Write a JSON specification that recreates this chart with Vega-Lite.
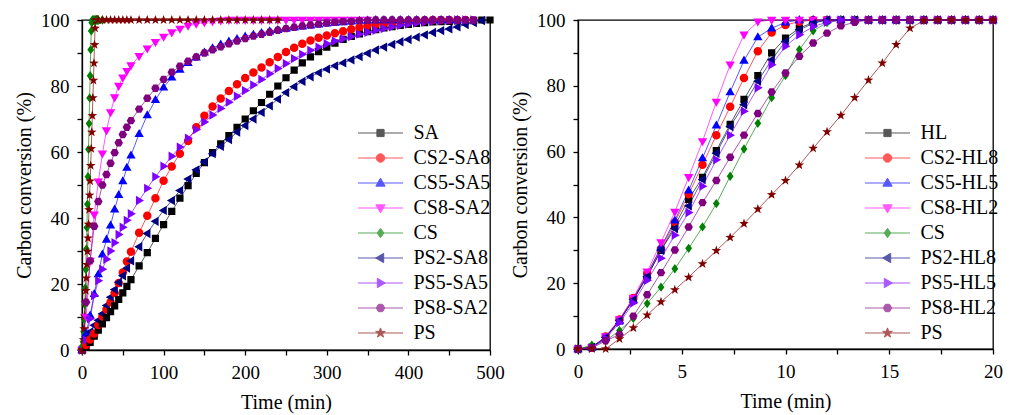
{
"$schema": "https://vega.github.io/schema/vega-lite/v6.json",
"padding": {"left": 13, "top": 10, "right": 5, "bottom": 5},
"spacing": 88,
"bounds": "flush",
"config": {
  "font": "Liberation Serif",
  "style": {"guide-title": {"fontWeight": "normal"}},
  "view": {"stroke": "black", "strokeWidth": 1.3},
  "axis": {"labelFont": "Liberation Serif", "titleFont": "Liberation Serif", "labelFontSize": 19, "titleFontSize": 20, "titleFontWeight": "normal", "labelColor": "black", "titleColor": "black", "domainColor": "black", "tickColor": "black", "domainWidth": 1.3, "tickWidth": 1.3, "tickSize": 5, "grid": false, "labelOverlap": false, "labelFlush": false},
  "legend": {"labelFont": "Liberation Serif", "labelFontSize": 20, "labelColor": "black", "symbolSize": 72, "symbolStrokeWidth": 1, "rowPadding": 5, "labelOffset": 23, "padding": 0, "orient": "none", "title": null}
},
"datasets": {
"L": [
{"t":0,"SA":0,"CS2-SA8":0,"CS5-SA5":0,"CS8-SA2":0,"CS":0,"PS2-SA8":0,"PS5-SA5":0,"PS8-SA2":0,"PS":0},
{"t":0.667,"CS":1.2,"PS":0},{"t":1.333,"CS":2.5,"PS":0},{"t":2,"CS":5.6,"PS":3.1},{"t":2.667,"CS":9.3,"PS":6.4},
{"t":3.333,"CS":13.8,"PS":10.3},{"t":4,"CS":18.8,"PS":14.3},{"t":4.667,"CS":24.4,"PS":18},{"t":5.333,"CS":30.6,"PS":21.8},
{"t":6,"CS":37.1,"PS":25.9},{"t":6.667,"CS":44.2,"PS":29.9},{"t":7.333,"CS":52.5,"PS":33.9},{"t":8,"CS":60.8,"PS":38.1},
{"t":8.667,"CS":68.6,"PS":42.5},{"t":9.333,"CS":76.4,"PS":46.9},{"t":10,"CS":83.1,"PS":51.2},{"t":10.667,"CS":91,"PS":55.9},
{"t":11.333,"CS":96.7,"PS":61},{"t":12,"CS":99.2,"PS":66},{"t":12.667,"CS":100,"PS":71},{"t":13.333,"CS":100,"PS":76.4},
{"t":14,"CS":100,"PS":81.7},{"t":14.667,"CS":100,"PS":86.9},{"t":15.333,"CS":100,"PS":92.5},{"t":16,"CS":100,"PS":97.5},
{"t":16.667,"CS":100,"PS":99.8},{"t":17.333,"CS":100,"PS":100},{"t":18,"CS":100,"PS":100},{"t":18.667,"CS":100,"PS":100},
{"t":19.333,"CS":100,"PS":100},{"t":20,"CS":100,"PS":100},
{"t":5,"SA":0.8,"CS2-SA8":1.5,"CS5-SA5":5,"CS8-SA2":10,"PS2-SA8":3.5,"PS5-SA5":3,"PS8-SA2":14.5},
{"t":10,"SA":2.3,"CS2-SA8":3.2,"CS5-SA5":10.5,"CS8-SA2":27,"PS2-SA8":5.5,"PS5-SA5":9.5,"PS8-SA2":27},
{"t":15,"SA":4.2,"CS2-SA8":5,"CS5-SA5":17,"CS8-SA2":41,"PS2-SA8":7.5,"PS5-SA5":16.5,"PS8-SA2":37.5},
{"t":20,"SA":6,"CS2-SA8":7.6,"CS5-SA5":23,"CS8-SA2":51,"PS2-SA8":9,"PS5-SA5":21,"PS8-SA2":45},
{"t":25,"SA":7.9,"CS2-SA8":10.2,"CS5-SA5":29,"CS8-SA2":59.5,"CS":100,"PS2-SA8":11,"PS5-SA5":24.5,"PS8-SA2":50,"PS":100},
{"t":30,"SA":9.8,"CS2-SA8":12.3,"CS5-SA5":33.5,"CS8-SA2":66.5,"PS2-SA8":13.5,"PS5-SA5":27.5,"PS8-SA2":53.2,"PS":100},
{"t":35,"SA":11.6,"CS2-SA8":14.5,"CS5-SA5":37.8,"CS8-SA2":72,"PS2-SA8":16,"PS5-SA5":30,"PS8-SA2":56.6,"PS":100},
{"t":40,"SA":13.4,"CS2-SA8":17.3,"CS5-SA5":42.6,"CS8-SA2":76.5,"PS2-SA8":18.3,"PS5-SA5":32.5,"PS8-SA2":59.8,"PS":100},
{"t":45,"SA":15.3,"CS2-SA8":20.3,"CS5-SA5":47,"CS8-SA2":80,"PS2-SA8":20.5,"PS5-SA5":35,"PS8-SA2":62.8,"PS":100},
{"t":50,"SA":17.3,"CS2-SA8":23.5,"CS5-SA5":51.2,"CS8-SA2":82.5,"PS2-SA8":22.5,"PS5-SA5":37.2,"PS8-SA2":65.3,"PS":100},
{"t":55,"SA":19.3,"CS2-SA8":26.8,"CS5-SA5":55.3,"CS8-SA2":84.5,"PS2-SA8":24.8,"PS5-SA5":39.3,"PS8-SA2":67.5,"PS":100},
{"t":60,"SA":21.3,"CS2-SA8":29.8,"CS5-SA5":59,"CS8-SA2":86.2,"PS2-SA8":27,"PS5-SA5":41.3,"PS8-SA2":69.5,"PS":100},
{"t":70,"SA":25.5,"CS2-SA8":35.5,"CS5-SA5":65.5,"CS8-SA2":89,"PS2-SA8":31.3,"PS5-SA5":45.3,"PS8-SA2":73,"PS":100},
{"t":80,"SA":29.5,"CS2-SA8":40.7,"CS5-SA5":71.2,"CS8-SA2":91.3,"PS2-SA8":35.3,"PS5-SA5":49,"PS8-SA2":76.3,"PS":100},
{"t":90,"SA":33.8,"CS2-SA8":46,"CS5-SA5":75.8,"CS8-SA2":93.3,"PS2-SA8":39,"PS5-SA5":52.5,"PS8-SA2":79.3,"PS":100},
{"t":100,"SA":38,"CS2-SA8":51.3,"CS5-SA5":79.6,"CS8-SA2":94.9,"PS2-SA8":42.3,"PS5-SA5":55.7,"PS8-SA2":82,"PS":100},
{"t":110,"SA":42,"CS2-SA8":55.6,"CS5-SA5":82.6,"CS8-SA2":96.2,"PS2-SA8":45.3,"PS5-SA5":58.7,"PS8-SA2":84.2,"PS":100},
{"t":120,"SA":46,"CS2-SA8":59.5,"CS5-SA5":85,"CS8-SA2":97.3,"PS2-SA8":48.3,"PS5-SA5":61.5,"PS8-SA2":86,"PS":100},
{"t":130,"SA":49.8,"CS2-SA8":63.3,"CS5-SA5":87,"CS8-SA2":98.2,"PS2-SA8":51.8,"PS5-SA5":64.2,"PS8-SA2":87.5,"PS":100},
{"t":140,"SA":53.5,"CS2-SA8":67.5,"CS5-SA5":88.7,"CS8-SA2":98.8,"PS2-SA8":54.6,"PS5-SA5":66.8,"PS8-SA2":88.8,"PS":100},
{"t":150,"SA":56.8,"CS2-SA8":71,"CS5-SA5":90.2,"CS8-SA2":99.3,"PS2-SA8":57,"PS5-SA5":69.1,"PS8-SA2":90,"PS":100},
{"t":160,"SA":59.8,"CS2-SA8":73.8,"CS5-SA5":91.5,"CS8-SA2":99.6,"PS2-SA8":59.5,"PS5-SA5":71.2,"PS8-SA2":91,"PS":100},
{"t":170,"SA":62.5,"CS2-SA8":76.2,"CS5-SA5":92.6,"CS8-SA2":99.8,"PS2-SA8":61.7,"PS5-SA5":73.2,"PS8-SA2":91.9,"PS":100},
{"t":180,"SA":65,"CS2-SA8":78.5,"CS5-SA5":93.5,"CS8-SA2":100,"PS2-SA8":63.8,"PS5-SA5":75.1,"PS8-SA2":92.8,"PS":100},
{"t":190,"SA":67.5,"CS2-SA8":80.5,"CS5-SA5":94.3,"CS8-SA2":100,"PS2-SA8":66,"PS5-SA5":76.9,"PS8-SA2":93.6,"PS":100},
{"t":200,"SA":70,"CS2-SA8":82.4,"CS5-SA5":95,"CS8-SA2":100,"PS2-SA8":68,"PS5-SA5":78.6,"PS8-SA2":94.4,"PS":100},
{"t":210,"SA":72.5,"CS2-SA8":84.1,"CS5-SA5":95.6,"CS8-SA2":100,"PS2-SA8":70,"PS5-SA5":80.3,"PS8-SA2":95.1,"PS":100},
{"t":220,"SA":75,"CS2-SA8":85.6,"CS5-SA5":96.1,"CS8-SA2":100,"PS2-SA8":72,"PS5-SA5":82,"PS8-SA2":95.7,"PS":100},
{"t":230,"SA":77.5,"CS2-SA8":87.2,"CS5-SA5":96.6,"CS8-SA2":100,"PS2-SA8":74,"PS5-SA5":83.7,"PS8-SA2":96.3,"PS":100},
{"t":240,"SA":80,"CS2-SA8":88.8,"CS5-SA5":97,"CS8-SA2":100,"PS2-SA8":76,"PS5-SA5":85.3,"PS8-SA2":96.9,"PS":100},
{"t":250,"SA":82.5,"CS2-SA8":90.3,"CS5-SA5":97.4,"CS8-SA2":100,"PS2-SA8":78,"PS5-SA5":86.8,"PS8-SA2":97.4},
{"t":260,"SA":84.8,"CS2-SA8":91.6,"CS5-SA5":97.8,"CS8-SA2":100,"PS2-SA8":79.8,"PS5-SA5":88.3,"PS8-SA2":97.8},
{"t":270,"SA":87,"CS2-SA8":92.8,"CS5-SA5":98.1,"CS8-SA2":100,"PS2-SA8":81.4,"PS5-SA5":89.6,"PS8-SA2":98.2},
{"t":280,"SA":88.8,"CS2-SA8":93.8,"CS5-SA5":98.4,"CS8-SA2":100,"PS2-SA8":82.8,"PS5-SA5":90.8,"PS8-SA2":98.5},
{"t":290,"SA":90.4,"CS2-SA8":94.6,"CS5-SA5":98.7,"CS8-SA2":100,"PS2-SA8":84,"PS5-SA5":91.8,"PS8-SA2":98.8},
{"t":300,"SA":91.8,"CS2-SA8":95.3,"CS5-SA5":99,"CS8-SA2":100,"PS2-SA8":85.1,"PS5-SA5":92.8,"PS8-SA2":99.1},
{"t":310,"SA":93,"CS2-SA8":96,"CS5-SA5":99.2,"CS8-SA2":100,"PS2-SA8":86.1,"PS5-SA5":93.6,"PS8-SA2":99.3},
{"t":320,"SA":94.1,"CS2-SA8":96.6,"CS5-SA5":99.4,"CS8-SA2":100,"PS2-SA8":87,"PS5-SA5":94.3,"PS8-SA2":99.5},
{"t":330,"SA":95,"CS2-SA8":97.2,"CS5-SA5":99.6,"CS8-SA2":100,"PS2-SA8":87.9,"PS5-SA5":95,"PS8-SA2":99.6},
{"t":340,"SA":95.8,"CS2-SA8":97.8,"CS5-SA5":99.8,"CS8-SA2":100,"PS2-SA8":88.9,"PS5-SA5":95.7,"PS8-SA2":99.8},
{"t":350,"SA":96.5,"CS2-SA8":98.3,"CS5-SA5":99.9,"CS8-SA2":100,"PS2-SA8":89.9,"PS5-SA5":96.3,"PS8-SA2":99.9},
{"t":360,"SA":97.1,"CS2-SA8":98.7,"CS5-SA5":100,"PS2-SA8":90.9,"PS5-SA5":96.9,"PS8-SA2":100},
{"t":370,"SA":97.6,"CS2-SA8":99,"CS5-SA5":100,"PS2-SA8":91.8,"PS5-SA5":97.4,"PS8-SA2":100},
{"t":380,"SA":98,"CS2-SA8":99.3,"CS5-SA5":100,"PS2-SA8":92.6,"PS5-SA5":97.9,"PS8-SA2":100},
{"t":390,"SA":98.4,"CS2-SA8":99.5,"CS5-SA5":100,"PS2-SA8":93.4,"PS5-SA5":98.4,"PS8-SA2":100},
{"t":400,"SA":98.7,"CS2-SA8":99.7,"CS5-SA5":100,"PS2-SA8":94.1,"PS5-SA5":98.8,"PS8-SA2":100},
{"t":410,"SA":99,"CS2-SA8":99.8,"CS5-SA5":100,"PS2-SA8":94.8,"PS5-SA5":99.1,"PS8-SA2":100},
{"t":420,"SA":99.2,"CS2-SA8":99.9,"CS5-SA5":100,"PS2-SA8":95.5,"PS5-SA5":99.4,"PS8-SA2":100},
{"t":430,"SA":99.4,"CS2-SA8":100,"CS5-SA5":100,"PS2-SA8":96.2,"PS5-SA5":99.6,"PS8-SA2":100},
{"t":440,"SA":99.5,"CS2-SA8":100,"CS5-SA5":100,"PS2-SA8":96.8,"PS5-SA5":99.8,"PS8-SA2":100},
{"t":450,"SA":99.6,"CS2-SA8":100,"CS5-SA5":100,"PS2-SA8":97.3,"PS5-SA5":99.9,"PS8-SA2":100},
{"t":460,"SA":99.7,"CS2-SA8":100,"CS5-SA5":100,"PS2-SA8":97.9,"PS5-SA5":100,"PS8-SA2":100},
{"t":470,"SA":99.8,"CS2-SA8":100,"PS2-SA8":98.6,"PS5-SA5":100,"PS8-SA2":100},
{"t":480,"SA":99.9,"PS2-SA8":99.2,"PS5-SA5":100,"PS8-SA2":100},
{"t":490,"SA":100,"PS2-SA8":99.8},
{"t":500,"SA":100}
],
"R": [
{"t":0,"HL":0,"CS2-HL8":0,"CS5-HL5":0,"CS8-HL2":0,"CS":0,"PS2-HL8":0,"PS5-HL5":0,"PS8-HL2":0,"PS":0},
{"t":0.667,"HL":0.5,"CS2-HL8":0.5,"CS5-HL5":0.5,"CS8-HL2":0.5,"CS":1.2,"PS2-HL8":0.5,"PS5-HL5":0.3,"PS8-HL2":0.3,"PS":0},
{"t":1.333,"HL":3.5,"CS2-HL8":3.8,"CS5-HL5":3.5,"CS8-HL2":3.8,"CS":2.5,"PS2-HL8":3.5,"PS5-HL5":3.2,"PS8-HL2":2.5,"PS":0},
{"t":2,"HL":8.7,"CS2-HL8":9,"CS5-HL5":8.5,"CS8-HL2":9,"CS":5.6,"PS2-HL8":8.7,"PS5-HL5":8,"PS8-HL2":4.4,"PS":3.1},
{"t":2.667,"HL":15,"CS2-HL8":15.5,"CS5-HL5":15,"CS8-HL2":15.5,"CS":9.3,"PS2-HL8":15,"PS5-HL5":14,"PS8-HL2":10,"PS":6.4},
{"t":3.333,"HL":22,"CS2-HL8":23,"CS5-HL5":22.5,"CS8-HL2":23.5,"CS":13.8,"PS2-HL8":22,"PS5-HL5":20.9,"PS8-HL2":16.5,"PS":10.3},
{"t":4,"HL":30,"CS2-HL8":30.5,"CS5-HL5":31,"CS8-HL2":32.4,"CS":18.8,"PS2-HL8":30,"PS5-HL5":27.6,"PS8-HL2":23.2,"PS":14.3},
{"t":4.667,"HL":37.5,"CS2-HL8":38.5,"CS5-HL5":39.1,"CS8-HL2":41.7,"CS":24.4,"PS2-HL8":36.6,"PS5-HL5":34.6,"PS8-HL2":30.1,"PS":18},
{"t":5.333,"HL":45.5,"CS2-HL8":47,"CS5-HL5":48.2,"CS8-HL2":52.2,"CS":30.6,"PS2-HL8":43.5,"PS5-HL5":41.5,"PS8-HL2":37.1,"PS":21.8},
{"t":6,"HL":52.2,"CS2-HL8":56,"CS5-HL5":58,"CS8-HL2":63.1,"CS":37.1,"PS2-HL8":51.5,"PS5-HL5":49.5,"PS8-HL2":44.5,"PS":25.9},
{"t":6.667,"HL":60.3,"CS2-HL8":65,"CS5-HL5":68,"CS8-HL2":75.1,"CS":44.2,"PS2-HL8":59.5,"PS5-HL5":57.5,"PS8-HL2":51.2,"PS":29.9},
{"t":7.333,"HL":68.3,"CS2-HL8":73.6,"CS5-HL5":78.1,"CS8-HL2":86.4,"CS":52.5,"PS2-HL8":67.6,"PS5-HL5":65,"PS8-HL2":58.3,"PS":33.9},
{"t":8,"HL":75.9,"CS2-HL8":82.4,"CS5-HL5":87.7,"CS8-HL2":95.5,"CS":60.8,"PS2-HL8":74.3,"PS5-HL5":72.3,"PS8-HL2":65,"PS":38.1},
{"t":8.667,"HL":83.1,"CS2-HL8":90.5,"CS5-HL5":94.8,"CS8-HL2":99.5,"CS":68.6,"PS2-HL8":81.4,"PS5-HL5":79.4,"PS8-HL2":71.6,"PS":42.5},
{"t":9.333,"HL":90,"CS2-HL8":96.2,"CS5-HL5":97.5,"CS8-HL2":100,"CS":76.4,"PS2-HL8":87.9,"PS5-HL5":86.4,"PS8-HL2":78.1,"PS":46.9},
{"t":10,"HL":94.5,"CS2-HL8":98.5,"CS5-HL5":99.3,"CS8-HL2":100,"CS":83.1,"PS2-HL8":93.5,"PS5-HL5":92,"PS8-HL2":83.9,"PS":51.2},
{"t":10.667,"HL":97.5,"CS2-HL8":99.5,"CS5-HL5":100,"CS8-HL2":100,"CS":91,"PS2-HL8":97,"PS5-HL5":95.5,"PS8-HL2":89,"PS":55.9},
{"t":11.333,"HL":99.3,"CS2-HL8":100,"CS5-HL5":100,"CS8-HL2":100,"CS":96.7,"PS2-HL8":99,"PS5-HL5":98,"PS8-HL2":93,"PS":61},
{"t":12,"HL":100,"CS2-HL8":100,"CS5-HL5":100,"CS8-HL2":100,"CS":99.2,"PS2-HL8":100,"PS5-HL5":99.3,"PS8-HL2":96,"PS":66},
{"t":12.667,"HL":100,"CS2-HL8":100,"CS5-HL5":100,"CS8-HL2":100,"CS":100,"PS2-HL8":100,"PS5-HL5":100,"PS8-HL2":98.2,"PS":71},
{"t":13.333,"HL":100,"CS2-HL8":100,"CS5-HL5":100,"CS8-HL2":100,"CS":100,"PS2-HL8":100,"PS5-HL5":100,"PS8-HL2":99.3,"PS":76.4},
{"t":14,"HL":100,"CS2-HL8":100,"CS5-HL5":100,"CS8-HL2":100,"CS":100,"PS2-HL8":100,"PS5-HL5":100,"PS8-HL2":100,"PS":81.7},
{"t":14.667,"HL":100,"CS2-HL8":100,"CS5-HL5":100,"CS8-HL2":100,"CS":100,"PS2-HL8":100,"PS5-HL5":100,"PS8-HL2":100,"PS":86.9},
{"t":15.333,"HL":100,"CS2-HL8":100,"CS5-HL5":100,"CS8-HL2":100,"CS":100,"PS2-HL8":100,"PS5-HL5":100,"PS8-HL2":100,"PS":92.5},
{"t":16,"HL":100,"CS2-HL8":100,"CS5-HL5":100,"CS8-HL2":100,"CS":100,"PS2-HL8":100,"PS5-HL5":100,"PS8-HL2":100,"PS":97.5},
{"t":16.667,"HL":100,"CS2-HL8":100,"CS5-HL5":100,"CS8-HL2":100,"CS":100,"PS2-HL8":100,"PS5-HL5":100,"PS8-HL2":100,"PS":99.8},
{"t":17.333,"HL":100,"CS2-HL8":100,"CS5-HL5":100,"CS8-HL2":100,"CS":100,"PS2-HL8":100,"PS5-HL5":100,"PS8-HL2":100,"PS":100},
{"t":18,"HL":100,"CS2-HL8":100,"CS5-HL5":100,"CS8-HL2":100,"CS":100,"PS2-HL8":100,"PS5-HL5":100,"PS8-HL2":100,"PS":100},
{"t":18.667,"HL":100,"CS2-HL8":100,"CS5-HL5":100,"CS8-HL2":100,"CS":100,"PS2-HL8":100,"PS5-HL5":100,"PS8-HL2":100,"PS":100},
{"t":19.333,"HL":100,"CS2-HL8":100,"CS5-HL5":100,"CS8-HL2":100,"CS":100,"PS2-HL8":100,"PS5-HL5":100,"PS8-HL2":100,"PS":100},
{"t":20,"HL":100,"CS2-HL8":100,"CS5-HL5":100,"CS8-HL2":100,"CS":100,"PS2-HL8":100,"PS5-HL5":100,"PS8-HL2":100,"PS":100}
]
},
"resolve": {"scale": {"fill": "independent", "stroke": "independent", "shape": "independent"}, "legend": {"fill": "independent", "stroke": "independent", "shape": "independent"}},
"hconcat": [
{
  "width": 408, "height": 330,
  "data": {"name": "L"},
  "transform": [{"fold": ["SA","CS2-SA8","CS5-SA5","CS8-SA2","CS","PS2-SA8","PS5-SA5","PS8-SA2","PS"], "as": ["series","c"]}, {"filter": "isValid(datum.c)"}],
  "encoding": {
    "x": {"field": "t", "type": "quantitative", "scale": {"domain": [0,500], "nice": false}, "axis": {"title": "Time (min)", "titleFontWeight": "normal", "values": [0,50,100,150,200,250,300,350,400,450,500], "labelExpr": "datum.value % 100 === 0 ? datum.label : ''", "labelPadding": 8, "titlePadding": 10}},
    "y": {"field": "c", "type": "quantitative", "scale": {"domain": [0,100], "nice": false}, "axis": {"title": "Carbon conversion (%)", "titleFontWeight": "normal", "values": [0,10,20,30,40,50,60,70,80,90,100], "labelExpr": "datum.value % 20 === 0 ? datum.label : ''", "labelPadding": 8, "titlePadding": 6}}
  },
  "layer": [
    {"mark": {"type": "line", "strokeWidth": 1, "opacity": 0.65},
     "encoding": {"stroke": {"field": "series", "type": "nominal", "scale": {"domain": ["SA","CS2-SA8","CS5-SA5","CS8-SA2","CS","PS2-SA8","PS5-SA5","PS8-SA2","PS"], "range": ["#000000","#ff0000","#0000ff","#ff00ff","#008000","#000080","#8000ff","#800080","#800000"]},
       "legend": {"legendX": 288.5, "legendY": 103, "encode": {"symbols": {"update": {"stroke": {"signal": "{'SA':'#000000','CS2-SA8':'#ff0000','CS5-SA5':'#0000ff','CS8-SA2':'#ff00ff','CS':'#008000','PS2-SA8':'#000080','PS5-SA5':'#8000ff','PS8-SA2':'#800080','PS':'#800000'}[datum.value]"}, "strokeOpacity": {"value": 0.6}}}}}}}},
    {"mark": {"type": "point", "filled": true, "size": 72, "opacity": 1},
     "encoding": {
       "fill": {"field": "series", "type": "nominal", "scale": {"domain": ["SA","CS2-SA8","CS5-SA5","CS8-SA2","CS","PS2-SA8","PS5-SA5","PS8-SA2","PS"], "range": ["#000000","#ff0000","#0000ff","#ff00ff","#008000","#000080","#8000ff","#800080","#800000"]},
         "legend": {"legendX": 288.5, "legendY": 103, "encode": {"symbols": {"update": {"stroke": {"signal": "{'SA':'#000000','CS2-SA8':'#ff0000','CS5-SA5':'#0000ff','CS8-SA2':'#ff00ff','CS':'#008000','PS2-SA8':'#000080','PS5-SA5':'#8000ff','PS8-SA2':'#800080','PS':'#800000'}[datum.value]"}, "strokeOpacity": {"value": 0.6}}}}}},
       "shape": {"field": "series", "type": "nominal", "scale": {"domain": ["SA","CS2-SA8","CS5-SA5","CS8-SA2","CS","PS2-SA8","PS5-SA5","PS8-SA2","PS"], "range": [
         "M-5.3,0H5.3M-0.85,-0.85H0.85V0.85H-0.85Z",
         "M-5.3,0H5.3M1,0A1,1,0,1,1,-1,0A1,1,0,1,1,1,0Z",
         "M-5.3,0H5.3M0,-1.15L1.1,0.75H-1.1Z",
         "M-5.3,0H5.3M0,1.15L1.1,-0.75H-1.1Z",
         "M-5.3,0H5.3M0,-1.1L0.8,0L0,1.1L-0.8,0Z",
         "M-5.3,0H5.3M-1.15,0L0.75,-1.1V1.1Z",
         "M-5.3,0H5.3M1.15,0L-0.75,-1.1V1.1Z",
         "M-5.3,0H5.3M1,0L0.5,0.87H-0.5L-1,0L-0.5,-0.87H0.5Z",
         "M-5.3,0H5.3M0,-1.2L0.282,-0.388L1.141,-0.371L0.456,0.148L0.705,0.971L0,0.48L-0.705,0.971L-0.456,0.148L-1.141,-0.371L-0.282,-0.388Z"
       ]},
         "legend": {"legendX": 288.5, "legendY": 103, "encode": {"symbols": {"update": {"stroke": {"signal": "{'SA':'#000000','CS2-SA8':'#ff0000','CS5-SA5':'#0000ff','CS8-SA2':'#ff00ff','CS':'#008000','PS2-SA8':'#000080','PS5-SA5':'#8000ff','PS8-SA2':'#800080','PS':'#800000'}[datum.value]"}, "strokeOpacity": {"value": 0.6}}}}}}
     }}
  ]
},
{
  "width": 415, "height": 329,
  "data": {"name": "R"},
  "transform": [{"fold": ["HL","CS2-HL8","CS5-HL5","CS8-HL2","CS","PS2-HL8","PS5-HL5","PS8-HL2","PS"], "as": ["series","c"]}, {"filter": "isValid(datum.c)"}],
  "encoding": {
    "x": {"field": "t", "type": "quantitative", "scale": {"domain": [0,20], "nice": false}, "axis": {"title": "Time (min)", "titleFontWeight": "normal", "values": [0,2.5,5,7.5,10,12.5,15,17.5,20], "labelExpr": "datum.value % 5 === 0 ? datum.label : ''", "labelPadding": 8, "titlePadding": 10}},
    "y": {"field": "c", "type": "quantitative", "scale": {"domain": [0,100], "nice": false}, "axis": {"title": "Carbon conversion (%)", "titleFontWeight": "normal", "values": [0,10,20,30,40,50,60,70,80,90,100], "labelExpr": "datum.value % 20 === 0 ? datum.label : ''", "labelPadding": 8, "titlePadding": 6}}
  },
  "layer": [
    {"mark": {"type": "line", "strokeWidth": 1, "opacity": 0.65},
     "encoding": {"stroke": {"field": "series", "type": "nominal", "scale": {"domain": ["HL","CS2-HL8","CS5-HL5","CS8-HL2","CS","PS2-HL8","PS5-HL5","PS8-HL2","PS"], "range": ["#000000","#ff0000","#0000ff","#ff00ff","#008000","#000080","#8000ff","#800080","#800000"]},
       "legend": {"legendX": 299.5, "legendY": 103, "encode": {"symbols": {"update": {"stroke": {"signal": "{'HL':'#000000','CS2-HL8':'#ff0000','CS5-HL5':'#0000ff','CS8-HL2':'#ff00ff','CS':'#008000','PS2-HL8':'#000080','PS5-HL5':'#8000ff','PS8-HL2':'#800080','PS':'#800000'}[datum.value]"}, "strokeOpacity": {"value": 0.6}}}}}}}},
    {"mark": {"type": "point", "filled": true, "size": 72, "opacity": 1},
     "encoding": {
       "fill": {"field": "series", "type": "nominal", "scale": {"domain": ["HL","CS2-HL8","CS5-HL5","CS8-HL2","CS","PS2-HL8","PS5-HL5","PS8-HL2","PS"], "range": ["#000000","#ff0000","#0000ff","#ff00ff","#008000","#000080","#8000ff","#800080","#800000"]},
         "legend": {"legendX": 299.5, "legendY": 103, "encode": {"symbols": {"update": {"stroke": {"signal": "{'HL':'#000000','CS2-HL8':'#ff0000','CS5-HL5':'#0000ff','CS8-HL2':'#ff00ff','CS':'#008000','PS2-HL8':'#000080','PS5-HL5':'#8000ff','PS8-HL2':'#800080','PS':'#800000'}[datum.value]"}, "strokeOpacity": {"value": 0.6}}}}}},
       "shape": {"field": "series", "type": "nominal", "scale": {"domain": ["HL","CS2-HL8","CS5-HL5","CS8-HL2","CS","PS2-HL8","PS5-HL5","PS8-HL2","PS"], "range": [
         "M-5.3,0H5.3M-0.85,-0.85H0.85V0.85H-0.85Z",
         "M-5.3,0H5.3M1,0A1,1,0,1,1,-1,0A1,1,0,1,1,1,0Z",
         "M-5.3,0H5.3M0,-1.15L1.1,0.75H-1.1Z",
         "M-5.3,0H5.3M0,1.15L1.1,-0.75H-1.1Z",
         "M-5.3,0H5.3M0,-1.1L0.8,0L0,1.1L-0.8,0Z",
         "M-5.3,0H5.3M-1.15,0L0.75,-1.1V1.1Z",
         "M-5.3,0H5.3M1.15,0L-0.75,-1.1V1.1Z",
         "M-5.3,0H5.3M1,0L0.5,0.87H-0.5L-1,0L-0.5,-0.87H0.5Z",
         "M-5.3,0H5.3M0,-1.2L0.282,-0.388L1.141,-0.371L0.456,0.148L0.705,0.971L0,0.48L-0.705,0.971L-0.456,0.148L-1.141,-0.371L-0.282,-0.388Z"
       ]},
         "legend": {"legendX": 299.5, "legendY": 103, "encode": {"symbols": {"update": {"stroke": {"signal": "{'HL':'#000000','CS2-HL8':'#ff0000','CS5-HL5':'#0000ff','CS8-HL2':'#ff00ff','CS':'#008000','PS2-HL8':'#000080','PS5-HL5':'#8000ff','PS8-HL2':'#800080','PS':'#800000'}[datum.value]"}, "strokeOpacity": {"value": 0.6}}}}}}
     }}
  ]
}
]
}
